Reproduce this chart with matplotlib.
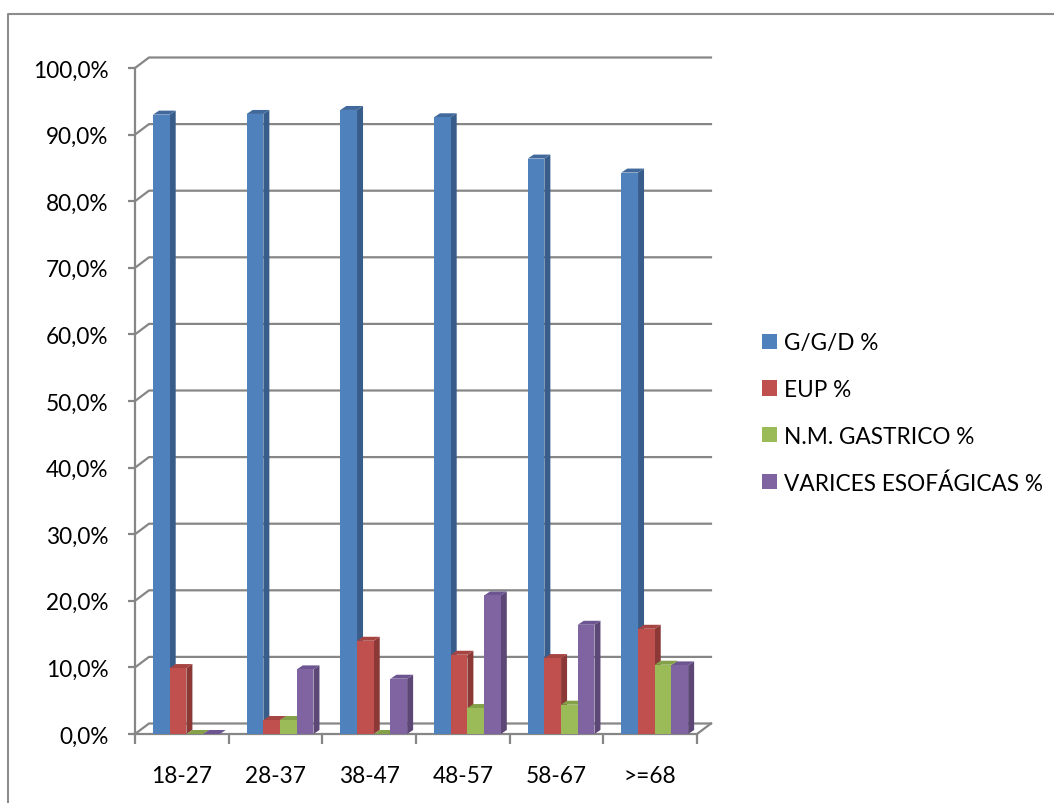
import matplotlib
matplotlib.use('Agg')
import matplotlib.pyplot as plt
from matplotlib.patches import Polygon, Patch
from matplotlib.lines import Line2D

###############################
# Data

groups = ['18-27', '28-37', '38-47', '48-57', '58-67', '>=68']
series = ['G/G/D %', 'EUP %', 'N.M. GASTRICO %', 'VARICES ESOFÁGICAS %']
ggd = [93.0, 93.1, 93.7, 92.6, 86.4, 84.3]
eup = [9.9, 2.1, 14.0, 11.9, 11.4, 15.8]
nm_gastrico = [0.0, 2.1, 0.0, 3.9, 4.4, 10.4]
varices = [0.0, 9.7, 8.3, 20.8, 16.4, 10.3]
yticks = [0, 10, 20, 30, 40, 50, 60, 70, 80, 90, 100]

###############################
# Styles

face = ['#4F81BD', '#C0504D', '#9BBB59', '#8064A2']
side = ['#385D8A', '#8C3836', '#71893E', '#5C4776']
top = ['#41699C', '#A64442', '#84A14A', '#6C5590']
gridcol = '#868686'
fontname = 'Lato'
fs = 16.3

W, H = 1054, 804
fig = plt.figure(figsize=(W/100, H/100), dpi=100)
fig.patch.set_facecolor('white')

# plot area (front plane) in pixels
x0p, x1p, y0p, y1p = 135, 697, 735, 69
ax = fig.add_axes([x0p/W, 1-y0p/H, (x1p-x0p)/W, (y0p-y1p)/H])
ax.set_xlim(-0.5, len(groups)-0.5)
ax.set_ylim(0, 100)
ax.set_facecolor('none')

pxx = (x1p-x0p)/len(groups)      # pixels per category
pxy = (y0p-y1p)/100.0            # pixels per percent

# wall depth offset
wdx, wdy = 14/pxx, 10.5/pxy
# bar depth offset
bdx, bdy = 6/pxx, 4/pxy

# back wall gridlines + side wall diagonals
for v in yticks:
    ax.plot([-0.5, -0.5+wdx, len(groups)-0.5+wdx], [v, v+wdy, v+wdy],
            color=gridcol, lw=1.6, clip_on=False, zorder=1)
# floor right edge
ax.plot([len(groups)-0.5, len(groups)-0.5+wdx], [0, wdy],
        color=gridcol, lw=1.6, clip_on=False, zorder=1)

# bars
data = [ggd, eup, nm_gastrico, varices]
bw = 16.7/pxx
start = 18/pxx
for i in range(len(groups)):
    for k in range(len(series)):
        h = data[k][i]
        xl = i - 0.5 + start + k*bw
        xr = xl + bw
        ax.add_patch(Polygon([(xr, 0), (xr+bdx, bdy), (xr+bdx, h+bdy), (xr, h)],
                             closed=True, fc=side[k], ec='none', zorder=3+k, clip_on=False))
        ax.add_patch(Polygon([(xl, h), (xl+bdx, h+bdy), (xr+bdx, h+bdy), (xr, h)],
                             closed=True, fc=top[k], ec='none', zorder=3+k, clip_on=False))
        ax.add_patch(Polygon([(xl, 0), (xr, 0), (xr, h), (xl, h)],
                             closed=True, fc=face[k], ec='none', zorder=3+k, clip_on=False))

# axes
for s in ['top', 'right']:
    ax.spines[s].set_visible(False)
for s in ['left', 'bottom']:
    ax.spines[s].set_color(gridcol)
    ax.spines[s].set_linewidth(1.6)
    ax.spines[s].set_zorder(2)

ax.set_yticks(yticks)
ax.set_yticklabels([('%.1f%%' % v).replace('.', ',') for v in yticks],
                   fontname=fontname, fontsize=fs)
ax.tick_params(axis='y', length=5, width=1.6, color=gridcol, pad=14)

ax.set_xticks(range(len(groups)))
ax.set_xticklabels(groups, fontname=fontname, fontsize=fs)
ax.set_xticks([i-0.5 for i in range(len(groups)+1)], minor=True)
ax.tick_params(axis='x', which='major', length=0, pad=22)
ax.tick_params(axis='x', which='minor', length=7, width=1.6, color=gridcol)

# legend
handles = [Patch(fc=c, ec='none') for c in face]
leg = fig.legend(handles, series, loc='center left',
                 bbox_to_anchor=(762/W, 1-414/H), frameon=False,
                 prop={'family': fontname, 'size': fs},
                 handlelength=0.65, handleheight=0.65, handletextpad=0.3,
                 labelspacing=1.13, borderpad=0, borderaxespad=0)

# outer frame (top and left edges visible)
fig.add_artist(Line2D([8/W, 8/W, 1.0], [0.0, 1-15/H, 1-15/H],
                      transform=fig.transFigure, color='#8C8C8C', lw=1.5))

fig.savefig('out.png', dpi=100, facecolor='white')
